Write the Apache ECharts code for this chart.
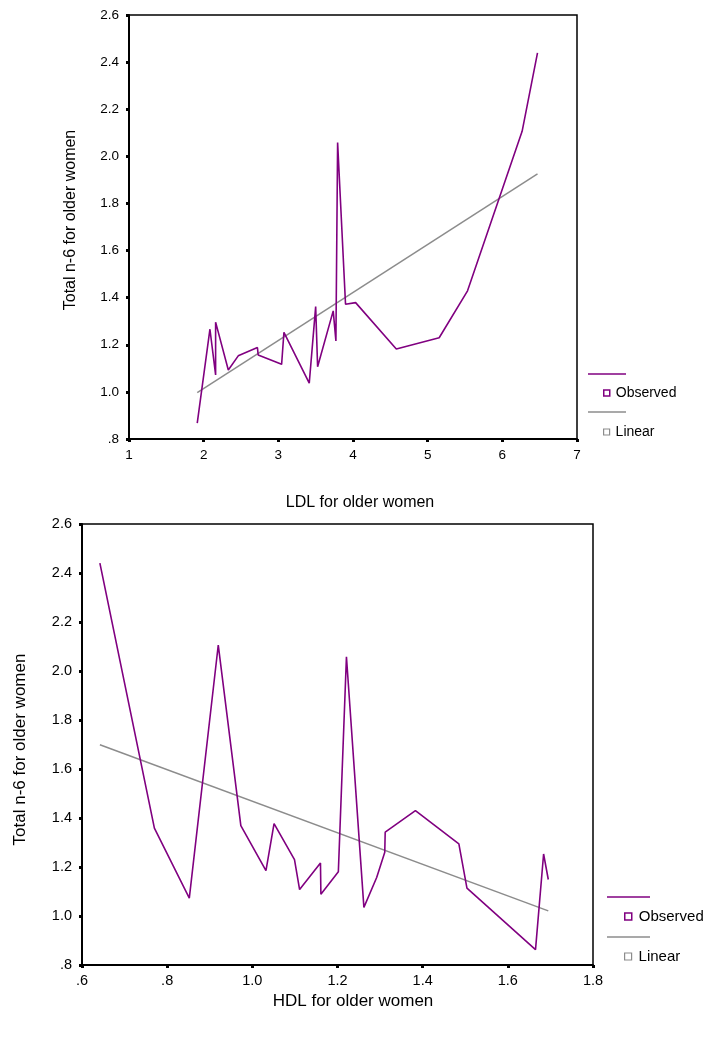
<!DOCTYPE html>
<html>
<head>
<meta charset="utf-8">
<script src="https://cdn.jsdelivr.net/npm/echarts@6/dist/echarts.min.js"></script>
<style>html,body{margin:0;padding:0;background:#fff;}#c{width:716px;height:1041px;}</style>
</head>
<body>
<div id="c"></div>
<script>
// Top chart: LDL vs Total n-6 (observed, in LDL order)
const ldlX = [1.914, 2.084, 2.16, 2.16, 2.33, 2.463, 2.72, 2.73, 3.044, 3.075, 3.414, 3.50, 3.526, 3.735, 3.771, 3.794, 3.90, 4.035, 4.58, 5.154, 5.534, 6.265, 6.471];
const ldlY = [0.867, 1.266, 1.072, 1.296, 1.093, 1.153, 1.188, 1.157, 1.117, 1.253, 1.037, 1.362, 1.107, 1.344, 1.216, 2.059, 1.372, 1.379, 1.182, 1.230, 1.429, 2.106, 2.439];
const ldlLinX = [1.914, 6.471];
const ldlLinY = [0.997, 1.926];

// Bottom chart: HDL vs Total n-6 (observed, in HDL order)
const hdlX = [0.642, 0.770, 0.852, 0.920, 0.973, 1.032, 1.051, 1.099, 1.111, 1.160, 1.161, 1.202, 1.221, 1.262, 1.292, 1.311, 1.312, 1.383, 1.485, 1.504, 1.665, 1.684, 1.695];
const hdlY = [2.440, 1.359, 1.073, 2.106, 1.369, 1.185, 1.377, 1.230, 1.108, 1.216, 1.089, 1.181, 2.058, 1.035, 1.157, 1.260, 1.342, 1.430, 1.294, 1.114, 0.863, 1.253, 1.149];
const hdlLinX = [0.642, 1.695];
const hdlLinY = [1.699, 1.021];

const yTicks = [0.8, 2.6, 0.2];
const ldlTicks = [1, 7, 1];
const hdlTicks = [0.6, 1.8, 0.2];

const PURPLE = '#800080';
const GRAY = '#8c8c8c';
const FONT = 'Liberation Sans, Arial, sans-serif';

function pairs(xs, ys){ return xs.map((x,i)=>[x, ys[i]]); }
function dotFmt(v){ const s = v.toFixed(1); return v < 1 ? s.replace(/^0/, '') : s; }

const chart = echarts.init(document.getElementById('c'), null, {renderer:'canvas'});

function yAxisCfg(gi, fs, gap, pad, nfs, margin){
  return {
    gridIndex: gi, type:'value', min: yTicks[0], max: yTicks[1], interval: yTicks[2],
    name: 'Total n-6 for older women', nameLocation:'middle', nameGap: gap,
    nameTextStyle:{fontFamily:FONT, fontSize:nfs, color:'#000', padding:pad},
    axisLine:{show:true, lineStyle:{color:'#000', width:2}},
    axisTick:{show:true, length:3, lineStyle:{color:'#000', width:3}},
    axisLabel:{fontFamily:FONT, fontSize:fs, color:'#000', margin:margin, formatter: dotFmt},
    splitLine:{show:false}
  };
}

const option = {
  animation:false,
  backgroundColor:'#fff',
  grid:[
    {left:129, top:15, width:448, height:424, show:true, borderColor:'#000', borderWidth:1.5, backgroundColor:'transparent'},
    {left:82, top:524, width:511, height:441, show:true, borderColor:'#000', borderWidth:1.5, backgroundColor:'transparent'}
  ],
  xAxis:[
    {gridIndex:0, type:'value', min:ldlTicks[0], max:ldlTicks[1], interval:ldlTicks[2],
     name:'LDL for older women', nameLocation:'middle', nameGap:56,
     nameTextStyle:{fontFamily:FONT, fontSize:16, color:'#000', padding:[0,0,0,14]},
     axisLine:{show:true, lineStyle:{color:'#000', width:2}},
     axisTick:{show:true, length:3, lineStyle:{color:'#000', width:3}},
     axisLabel:{fontFamily:FONT, fontSize:13.5, color:'#000', margin:9},
     splitLine:{show:false}},
    {gridIndex:1, type:'value', min:hdlTicks[0], max:hdlTicks[1], interval:hdlTicks[2],
     name:'HDL for older women', nameLocation:'middle', nameGap:28,
     nameTextStyle:{fontFamily:FONT, fontSize:17, color:'#000', padding:[0,0,0,31]},
     axisLine:{show:true, lineStyle:{color:'#000', width:2}},
     axisTick:{show:true, length:3, lineStyle:{color:'#000', width:3}},
     axisLabel:{fontFamily:FONT, fontSize:14.5, color:'#000', margin:8, formatter: dotFmt},
     splitLine:{show:false}}
  ],
  yAxis:[
    yAxisCfg(0, 13.5, 50, [0,0,0,14], 16, 10),
    yAxisCfg(1, 14.5, 53, [0,10,0,0], 17, 10)
  ],
  legend:[
    {data:[{name:'Observed', icon:'rect', itemStyle:{color:'#fff', borderColor:PURPLE, borderWidth:1.5}}],
     left:598, top:381, itemWidth:6, itemHeight:6, selectedMode:false,
     textStyle:{fontFamily:FONT, fontSize:14, color:'#000', padding:[0,0,0,1]}},
    {data:[{name:'Linear', icon:'rect', itemStyle:{color:'#fff', borderColor:GRAY, borderWidth:1.2}}],
     left:598, top:420, itemWidth:6, itemHeight:6, selectedMode:false,
     textStyle:{fontFamily:FONT, fontSize:14, color:'#000', padding:[0,0,0,1]}},
    {data:[{name:'Observed', icon:'rect', itemStyle:{color:'#fff', borderColor:PURPLE, borderWidth:1.5}}],
     left:619, top:904, itemWidth:7, itemHeight:7, selectedMode:false,
     textStyle:{fontFamily:FONT, fontSize:15, color:'#000', padding:[0,0,0,2]}},
    {data:[{name:'Linear', icon:'rect', itemStyle:{color:'#fff', borderColor:GRAY, borderWidth:1.2}}],
     left:619, top:944, itemWidth:7, itemHeight:7, selectedMode:false,
     textStyle:{fontFamily:FONT, fontSize:15, color:'#000', padding:[0,0,0,2]}}
  ],
  graphic:[
    {type:'line', shape:{x1:588, y1:374, x2:626, y2:374}, style:{stroke:PURPLE, lineWidth:1.5}},
    {type:'line', shape:{x1:588, y1:412, x2:626, y2:412}, style:{stroke:GRAY, lineWidth:1.5}},
    {type:'line', shape:{x1:607, y1:897, x2:650, y2:897}, style:{stroke:PURPLE, lineWidth:1.5}},
    {type:'line', shape:{x1:607, y1:937, x2:650, y2:937}, style:{stroke:GRAY, lineWidth:1.5}}
  ],
  series:[
    {name:'Linear', type:'line', xAxisIndex:0, yAxisIndex:0, data:pairs(ldlLinX, ldlLinY), showSymbol:false, lineStyle:{color:GRAY, width:1.5}, itemStyle:{color:GRAY}, z:2},
    {name:'Observed', type:'line', xAxisIndex:0, yAxisIndex:0, data:pairs(ldlX, ldlY), showSymbol:false, lineStyle:{color:PURPLE, width:1.6}, itemStyle:{color:PURPLE}, z:3},
    {name:'Linear', type:'line', xAxisIndex:1, yAxisIndex:1, data:pairs(hdlLinX, hdlLinY), showSymbol:false, lineStyle:{color:GRAY, width:1.5}, itemStyle:{color:GRAY}, z:2},
    {name:'Observed', type:'line', xAxisIndex:1, yAxisIndex:1, data:pairs(hdlX, hdlY), showSymbol:false, lineStyle:{color:PURPLE, width:1.6}, itemStyle:{color:PURPLE}, z:3}
  ]
};
chart.setOption(option);
</script>
</body>
</html>
